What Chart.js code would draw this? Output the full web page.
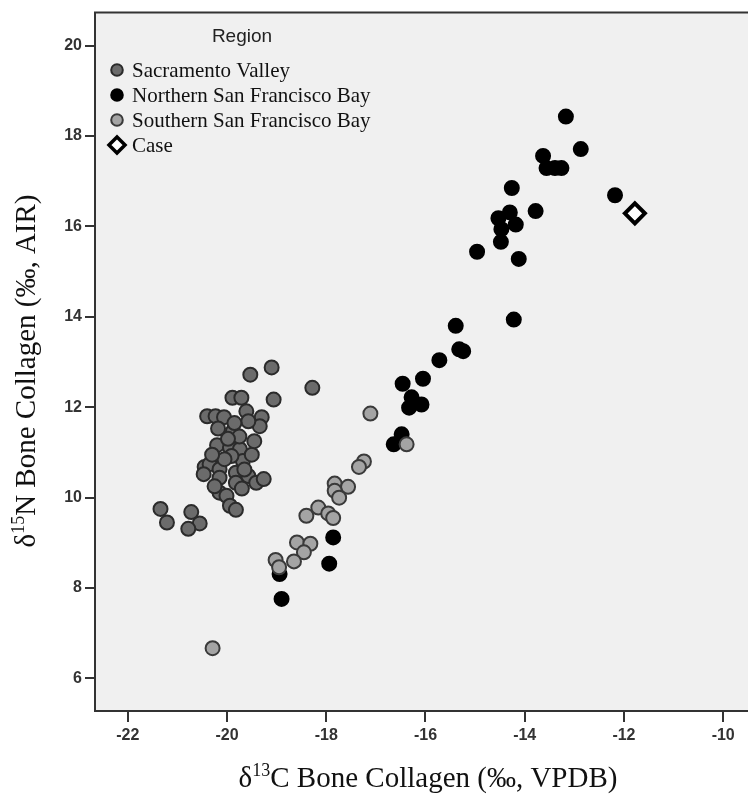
<!DOCTYPE html>
<html><head><meta charset="utf-8">
<script src="https://cdn.jsdelivr.net/npm/chart.js@4.4.1/dist/chart.umd.min.js"></script>
<style>html,body{margin:0;padding:0;background:#fff;} #wrap{width:748px;height:798px;position:relative;}</style>
</head><body><div id="wrap"><canvas id="c" width="748" height="798"></canvas></div>
<script>
const xTicks = [-22,-20,-18,-16,-14,-12,-10];
const yTicks = [6,8,10,12,14,16,18,20];
const legendTitle = 'Region';
const seriesNames = ['Sacramento Valley','Northern San Francisco Bay','Southern San Francisco Bay','Case'];

const sacX = [-19.10,-19.53,-18.28,-19.06,-19.89,-19.71,-20.40,-20.23,-20.06,-19.61,-19.30,-19.34,-19.57,-20.18,-19.88,-20.20,-19.94,-19.74,-19.68,-19.91,-20.45,-20.35,-20.47,-20.15,-20.15,-19.82,-19.82,-19.57,-19.41,-19.26,-20.15,-20.01,-19.94,-19.82,-21.34,-21.21,-20.72,-20.55,-20.78,-19.75,-19.98,-19.50,-20.05,-19.65,-20.25,-19.70,-20.30,-19.45,-19.85];
const sacY = [12.88,12.72,12.43,12.17,12.21,12.21,11.80,11.80,11.78,11.91,11.78,11.58,11.69,11.53,11.47,11.16,11.11,11.07,10.81,10.92,10.68,10.74,10.52,10.63,10.44,10.55,10.33,10.48,10.33,10.41,10.11,10.04,9.82,9.73,9.75,9.45,9.68,9.43,9.31,11.35,11.30,10.95,10.85,10.62,10.25,10.20,10.95,11.25,11.65];

const norX = [-13.17,-12.87,-13.63,-13.56,-13.39,-13.26,-14.26,-12.18,-13.78,-14.30,-14.53,-14.18,-14.47,-14.48,-14.96,-14.12,-14.22,-15.39,-15.32,-15.24,-15.72,-16.05,-16.46,-16.28,-16.08,-16.33,-16.48,-16.64,-17.86,-17.94,-18.94,-18.90];
const norY = [18.43,17.71,17.56,17.29,17.29,17.29,16.85,16.69,16.34,16.31,16.18,16.04,15.94,15.66,15.44,15.28,13.94,13.80,13.28,13.24,13.04,12.63,12.52,12.22,12.06,11.99,11.40,11.18,9.12,8.54,8.31,7.76];

const souX = [-17.11,-16.38,-17.24,-17.34,-17.83,-17.56,-17.83,-17.74,-18.16,-18.40,-17.96,-17.86,-18.59,-18.32,-18.45,-18.65,-19.02,-18.95,-20.29];
const souY = [11.86,11.18,10.80,10.68,10.31,10.24,10.15,10.00,9.78,9.60,9.65,9.55,9.01,8.98,8.79,8.59,8.62,8.46,6.67];

const caseX = [-11.78];
const caseY = [16.29];

const xTitleParts = [['δ',false],['13',true],['C Bone Collagen (‰, VPDB)',false]];
const yTitleParts = [['δ',false],['15',true],['N Bone Collagen (‰, AIR)',false]];

function pts(xs, ys){ return xs.map((x,i)=>({x:x, y:ys[i]})); }

const styles = [
  {bg:'#6b6b6b', bd:'#2b2b2b', shape:'circle', r:7, bw:2},
  {bg:'#000000', bd:'#000000', shape:'circle', r:7, bw:2},
  {bg:'#a4a4a4', bd:'#3a3a3a', shape:'circle', r:7, bw:2},
  {bg:'#ffffff', bd:'#000000', shape:'rectRot', r:10, bw:4}
];
const dataSets = [pts(sacX,sacY), pts(norX,norY), pts(souX,souY), pts(caseX,caseY)];
const orders = [3,2,1,0];

const datasets = dataSets.map((d,i)=>({
  label: seriesNames[i], data: d, order: orders[i],
  pointStyle: styles[i].shape, pointRadius: styles[i].r, pointHoverRadius: styles[i].r,
  pointBackgroundColor: styles[i].bg, pointBorderColor: styles[i].bd, pointBorderWidth: styles[i].bw,
  backgroundColor: styles[i].bg, borderColor: styles[i].bd, showLine:false
}));

function drawParts(ctx, parts, cx, cy, size){
  const main = size + 'px "Liberation Serif"';
  const sup = Math.round(size*0.62) + 'px "Liberation Serif"';
  let w = 0;
  parts.forEach(p=>{ ctx.font = p[1]?sup:main; w += ctx.measureText(p[0]).width; });
  let x = cx - w/2;
  ctx.textBaseline = 'alphabetic'; ctx.textAlign = 'left';
  parts.forEach(p=>{
    ctx.font = p[1]?sup:main;
    ctx.fillText(p[0], x, cy + size*0.35 - (p[1]? size*0.38 : 0));
    x += ctx.measureText(p[0]).width;
  });
}

const framePlugin = {
  id:'frame',
  beforeDraw(chart){
    const {ctx, chartArea:a} = chart;
    ctx.save(); ctx.fillStyle='#f0f0f0'; ctx.fillRect(a.left, a.top, a.right-a.left, a.bottom-a.top); ctx.restore();
  },
  afterDraw(chart){
    const {ctx, chartArea:a} = chart;
    ctx.save();
    ctx.strokeStyle='#333'; ctx.lineWidth=2;
    ctx.beginPath(); ctx.moveTo(a.left-1, a.top); ctx.lineTo(a.right, a.top); ctx.stroke();
    ctx.fillStyle='#111';
    drawParts(ctx, xTitleParts, 428, 777, 29);
    ctx.translate(25, 371); ctx.rotate(-Math.PI/2);
    drawParts(ctx, yTitleParts, 0, 0, 29);
    ctx.restore();
    // legend
    ctx.save();
    ctx.fillStyle='#222'; ctx.font='19px "Liberation Sans"'; ctx.textAlign='center'; ctx.textBaseline='middle';
    ctx.fillText(legendTitle, 242, 37);
    ctx.textAlign='left';
    seriesNames.forEach((n,i)=>{
      const y = 70 + i*25; const x = 117;
      const s = styles[i];
      ctx.fillStyle = s.bg; ctx.strokeStyle = s.bd;
      if (s.shape==='circle'){
        ctx.lineWidth=2; ctx.beginPath(); ctx.arc(x,y,5.8,0,Math.PI*2); ctx.fill(); ctx.stroke();
      } else {
        ctx.lineWidth=3.5; const r=8; ctx.beginPath(); ctx.moveTo(x,y-r); ctx.lineTo(x+r,y); ctx.lineTo(x,y+r); ctx.lineTo(x-r,y); ctx.closePath(); ctx.fill(); ctx.stroke();
      }
      ctx.fillStyle='#111'; ctx.font='21px "Liberation Serif"';
      ctx.fillText(n, 132, y+1);
    });
    ctx.restore();
  }
};

new Chart(document.getElementById('c'), {
  type:'scatter',
  data:{datasets},
  options:{
    responsive:false, animation:false, devicePixelRatio:1,
    layout:{autoPadding:false, padding:{top:10,left:0,right:0,bottom:0}},
    plugins:{legend:{display:false}, tooltip:{enabled:false}},
    scales:{
      x:{type:'linear', min:-22.66, max:-9.5,
        afterBuildTicks:s=>{ s.ticks = xTicks.map(v=>({value:v})); },
        afterFit:s=>{ s.height = 87; },
        grid:{display:true, drawOnChartArea:false, drawTicks:true, tickLength:11, color:'#333', lineWidth:2},
        border:{display:true, color:'#333', width:2},
        ticks:{font:{family:'Liberation Sans', size:16, weight:'bold'}, color:'#333', padding:4, maxRotation:0, autoSkip:false}
      },
      y:{type:'linear', min:5.28, max:20.73,
        afterBuildTicks:s=>{ s.ticks = yTicks.map(v=>({value:v})); },
        afterFit:s=>{ s.width = 95; },
        grid:{display:true, drawOnChartArea:false, drawTicks:true, tickLength:10, color:'#333', lineWidth:2},
        border:{display:true, color:'#333', width:2},
        ticks:{font:{family:'Liberation Sans', size:16, weight:'bold'}, color:'#333', padding:3, autoSkip:false}
      }
    }
  },
  plugins:[framePlugin]
});
</script></body></html>
